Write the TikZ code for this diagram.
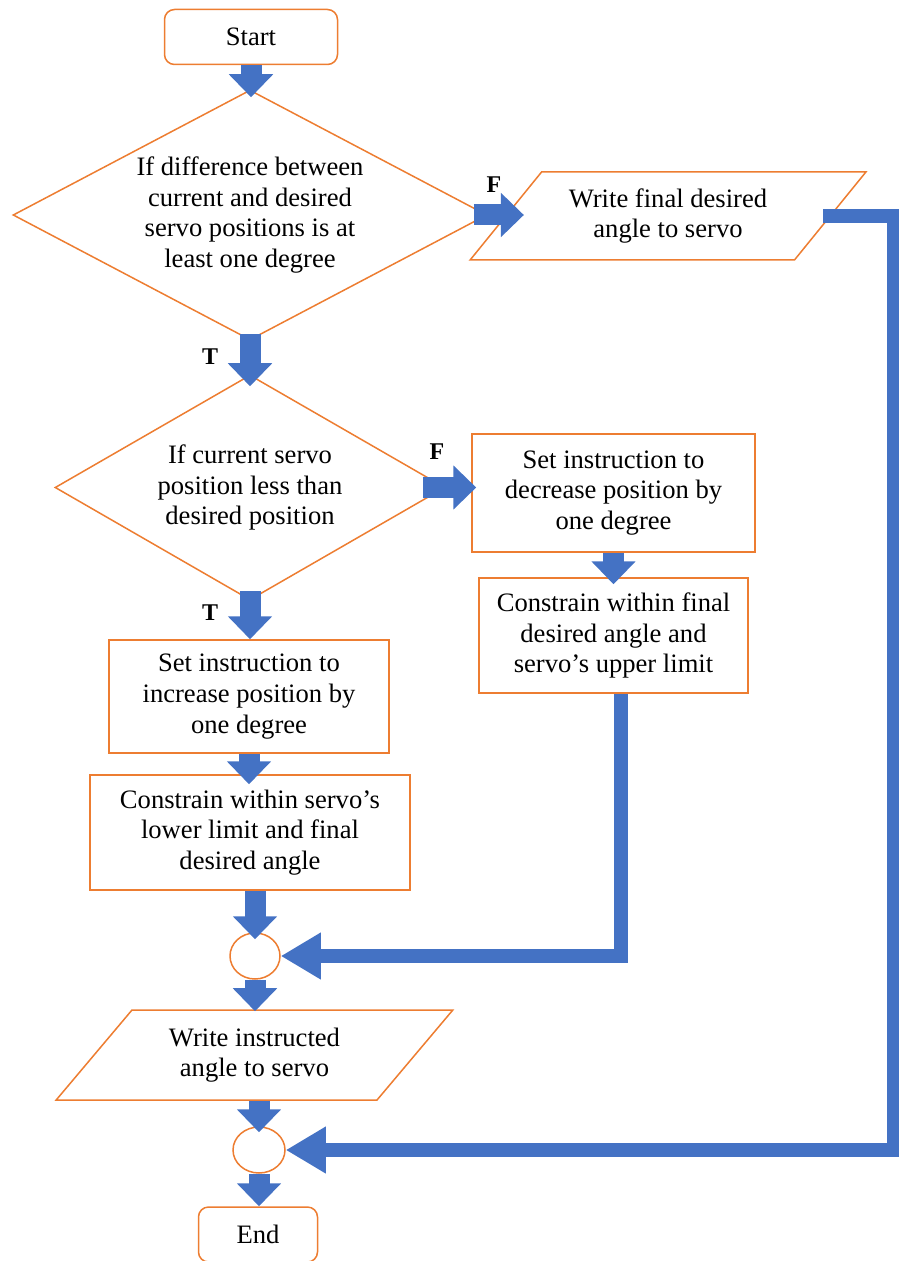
\documentclass[tikz,border=0pt]{standalone}
\usepackage{fontspec}
\setmainfont{Liberation Serif}
\usepackage{xcolor}
\usepackage{tikz}
\usetikzlibrary{arrows.meta}
\usetikzlibrary{shapes.geometric}
\definecolor{boxorange}{HTML}{ED7D31}
\definecolor{flowblue}{HTML}{4472C4}
\tikzset{
    base/.style = {align=center, inner sep=0pt, draw=boxorange, fill=white, line width=0.75pt},
    terminal/.style = {base, rectangle, rounded corners=5pt, minimum height=27.5pt},
    process/.style = {base, rectangle},
    decision/.style = {base, diamond},
    io/.style = {base, trapezium, trapezium stretches=true},
    joint/.style = {base, ellipse},
    branch/.style = {font=\fontsize{12}{14}\selectfont\bfseries},
    flow/.style = {draw=flowblue, line width=10.5pt, -{Triangle[width=21.5pt,length=11.5pt]}},
    loopback/.style = {draw=flowblue, line width=7pt, line join=miter, -{Triangle[width=22pt,length=20pt]}}
}

\begin{document}
\begin{tikzpicture}
            [x=0.5pt, y=-0.5pt, font=\fontsize{13.3}{15.3}\selectfont]

            \useasboundingbox (0,0) rectangle (898,1261);

            \node [terminal, minimum width=86.5pt] (start) at (251,37) {Start};
            \node [decision, shape aspect=1.9, minimum width=237pt, minimum height=125pt] (d1) at (250,215)
                {If difference between\\current and desired\\servo positions is at\\least one degree};
            \node [io, trapezium left angle=44.5, trapezium right angle=135.5,
                   minimum width=198pt, minimum height=44pt] (p1) at (668,216)
                {Write final desired\\angle to servo};
            \node [decision, shape aspect=1.73, minimum width=195pt, minimum height=112.5pt] (d2) at (250,487.5)
                {If current servo\\position less than\\desired position};
            \node [process, minimum width=141.5pt, minimum height=59pt] (b1) at (613.5,493)
                {Set instruction to\\decrease position by\\one degree};
            \node [process, minimum width=134.5pt, minimum height=57.5pt] (b2) at (613.5,635.5)
                {Constrain within final\\desired angle and\\servo's upper limit};
            \node [process, minimum width=140pt, minimum height=56.5pt] (b3) at (249,696.5)
                {Set instruction to\\increase position by\\one degree};
            \node [process, minimum width=160pt, minimum height=57.5pt] (b4) at (250,832.5)
                {Constrain within servo's\\lower limit and final\\desired angle};
            \node [joint, minimum width=25pt, minimum height=23pt] (c1) at (255,956) {};
            \node [io, trapezium left angle=46, trapezium right angle=134,
                   minimum width=198.5pt, minimum height=45pt] (p2) at (254.5,1055)
                {Write instructed\\angle to servo};
            \node [joint, minimum width=26pt, minimum height=23pt] (c2) at (259,1150) {};
            \node [terminal, minimum width=59.5pt] (end) at (258,1234.5) {End};

            \node [branch] (f1) at (494,185) {F};
            \node [branch] (t1) at (210,357) {T};
            \node [branch] (f2) at (437,452) {F};
            \node [branch] (t2) at (210,613) {T};

            % short block arrows
            \draw [flow, shorten >=-4pt] (start.south) -- (start.south |- d1.north);
            \draw [flow, shorten <=-3.5pt, shorten >=-6pt] (d1.south) -- (d2.north);
            \draw [flow, shorten <=-7pt, shorten >=-9.5pt] (d1.east) -- (d1.east -| p1.west);
            \draw [flow, shorten <=-11.5pt, shorten >=-2.5pt] (d2.east) -- (d2.east -| b1.west);
            \draw [flow, shorten <=-5pt] (d2.south) -- (d2.south |- b3.north);
            \draw [flow, shorten >=-3.5pt] (b1.south) -- (b2.north);
            \draw [flow, shorten >=-5pt] (b3.south) -- (b3.south |- b4.north);
            \draw [flow, shorten >=-3.5pt] (c1.north |- b4.south) -- (c1.north);
            \draw [flow, shorten >=-1pt] (c1.south) -- (c1.south |- p2.north);
            \draw [flow, shorten >=-3pt] (c2.north |- p2.south) -- (c2.north);
            \draw [flow] (c2.south) -- (c2.south |- end.north);

            % long returns into the joints
            \draw [loopback, shorten <=-4pt] (p1.east) -- ++(63,0) |- (c2.east);
            \draw [loopback] ([xshift=3.75pt]b2.south) |- (c1.east);
\end{tikzpicture}
\end{document}
